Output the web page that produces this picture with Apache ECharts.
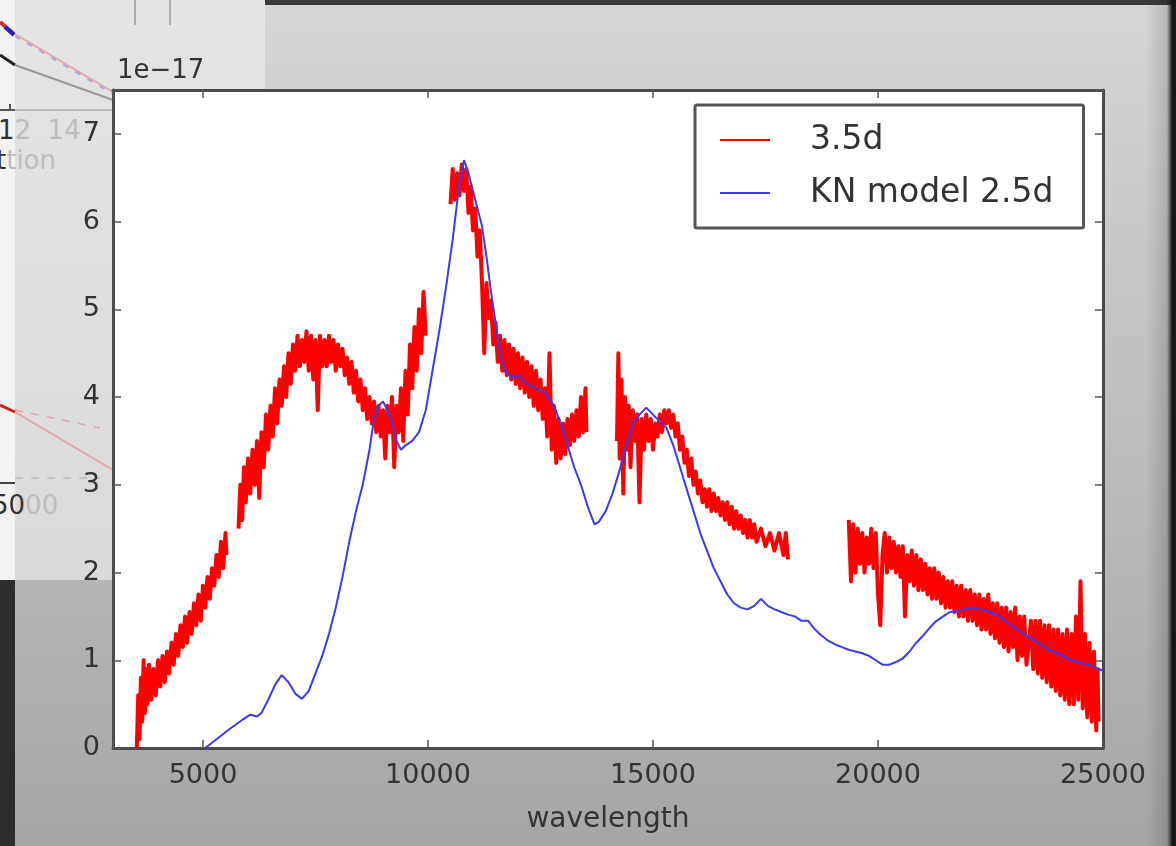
<!DOCTYPE html>
<html>
<head>
<meta charset="utf-8">
<script src="https://cdn.jsdelivr.net/npm/echarts@6/dist/echarts.min.js"></script>
<style>
  html, body { margin: 0; padding: 0; }
  #wrap { position: relative; width: 1176px; height: 846px; overflow: hidden;
    background: linear-gradient(to bottom, #d6d6d6 0%, #c2c2c2 40%, #a6a6a6 100%); font-family: "DejaVu Sans", sans-serif; }
  #rightEdge { position: absolute; right: 0; top: 0; width: 30px; height: 846px;
    background: linear-gradient(to right, rgba(0,0,0,0) 0%, rgba(0,0,0,0.15) 70%, rgba(20,20,20,1) 88%, #1a1a1a 100%); }
  #topStrip { position: absolute; left: 265px; top: 0; width: 911px; height: 5px; background: #3a3a3a; }
  #leftDark { position: absolute; left: 0; top: 580px; width: 15px; height: 266px; background: #2e2e2e; }
  #panel { position: absolute; left: 0; top: 0; width: 265px; height: 580px;
    background: linear-gradient(to bottom, #e4e4e4 0%, #dadada 100%); }
  #panelStrip { position: absolute; left: 0; top: 0; width: 15px; height: 580px; background: #f2f2f2; }
  .frag { position: absolute; font-size: 26px; color: #bdbdbd; white-space: nowrap; }
  .dark { color: #333; }
  #chart { position: absolute; left: 0; top: 0; width: 1176px; height: 846px; }
</style>
</head>
<body>
<div id="wrap">
  <div id="topStrip"></div>
  <div id="rightEdge"></div>
  <div id="leftDark"></div>
  <div id="panel"></div>
  <div id="panelStrip"></div>
  <svg style="position:absolute;left:0;top:0" width="265" height="580">
    <line x1="135" y1="0" x2="135" y2="25" stroke="#999" stroke-width="1.5"/>
    <line x1="170" y1="0" x2="170" y2="25" stroke="#999" stroke-width="1.5"/>
    <line x1="0" y1="110" x2="115" y2="110" stroke="#b0b0b0" stroke-width="1.5"/>
    <line x1="0" y1="110" x2="15" y2="110" stroke="#555" stroke-width="2"/>
    <line x1="10" y1="104" x2="10" y2="110" stroke="#555" stroke-width="2"/>
    <line x1="0" y1="22" x2="14" y2="34" stroke="#c83030" stroke-width="4"/>
    <line x1="5" y1="27" x2="14" y2="35" stroke="#2020c0" stroke-width="4"/>
    <line x1="0" y1="55" x2="15" y2="65" stroke="#222" stroke-width="3"/>
    <line x1="15" y1="34" x2="113" y2="92" stroke="#f0a0a0" stroke-width="1.5"/>
    <line x1="15" y1="36" x2="113" y2="94" stroke="#a8a8e8" stroke-width="2" stroke-dasharray="6,8"/>
    <line x1="15" y1="65" x2="113" y2="100" stroke="#999" stroke-width="2"/>
    <line x1="0" y1="405" x2="15" y2="412" stroke="#d02020" stroke-width="3"/>
    <line x1="15" y1="412" x2="113" y2="470" stroke="#e8a0a0" stroke-width="1.5"/>
    <line x1="15" y1="410" x2="100" y2="428" stroke="#e8a0a0" stroke-width="1.5" stroke-dasharray="8,8"/>
    <line x1="15" y1="478" x2="100" y2="478" stroke="#bbb" stroke-width="1.5" stroke-dasharray="8,8"/>
    <line x1="0" y1="483" x2="15" y2="483" stroke="#444" stroke-width="2"/>
  </svg>
  <div class="frag" style="left:-2px;top:115px;"><span class="dark">1</span>2&nbsp;&nbsp;14</div>
  <div class="frag" style="left:-4px;top:145px;"><span class="dark">t</span>tion</div>
  <div class="frag" style="left:-8px;top:490px;"><span class="dark">50</span>00</div>
  <div id="chart"></div>
</div>
<script>
// ---------- data ----------
var xTicks = [5000, 10000, 15000, 20000, 25000];
var yTicks = [0, 1, 2, 3, 4, 5, 6, 7];

// observed spectrum at 3.5 d (red), split where there are gaps
var red1 = [[3530,0.0],[3560,0.6],[3590,0.1],[3620,0.8],[3650,0.3],[3680,1.0],[3710,0.4],[3740,0.9],[3770,0.5],[3800,0.95],
  [3850,0.55],[3900,0.9],[3950,0.6],[4000,1.0],[4050,0.7],[4100,1.05],[4150,0.75],[4200,1.1],[4250,0.85],[4300,1.2],
  [4350,0.95],[4400,1.3],[4450,1.05],[4500,1.4],[4550,1.15],[4600,1.5],[4650,1.2],[4700,1.55],[4750,1.3],[4800,1.65],
  [4850,1.4],[4900,1.75],[4950,1.45],[5000,1.85],[5050,1.6],[5100,1.95],[5150,1.7],[5200,2.05],[5250,1.85],[5300,2.2],
  [5350,1.95],[5400,2.35],[5450,2.05],[5500,2.45],[5520,2.2]];
var red2 = [[5790,2.5],[5830,3.0],[5870,2.6],[5910,3.2],[5950,2.8],[6000,3.3],[6050,2.9],[6100,3.4],[6150,3.0],[6200,3.5],
  [6250,2.85],[6300,3.6],[6350,3.2],[6400,3.8],[6450,3.4],[6500,3.9],[6550,3.55],[6600,4.1],[6650,3.7],[6700,4.2],
  [6750,3.9],[6800,4.35],[6850,4.0],[6900,4.5],[6950,4.15],[7000,4.6],[7050,4.3],[7100,4.7],[7150,4.35],[7200,4.65],
  [7250,4.4],[7300,4.75],[7350,4.3],[7400,4.7],[7450,4.2],[7500,4.65],[7550,3.85],[7600,4.7],[7650,4.35],[7700,4.65],
  [7750,4.35],[7800,4.7],[7850,4.4],[7900,4.65],[7950,4.3],[8000,4.6],[8050,4.35],[8100,4.55],[8150,4.25],[8200,4.45],
  [8250,4.15],[8300,4.4],[8350,4.05],[8400,4.3],[8450,3.95],[8500,4.2],[8550,3.85],[8600,4.1],[8650,3.75],[8700,4.0],
  [8750,3.7],[8800,3.95],[8850,3.6],[8900,3.9],[8950,3.55],[9000,3.85],[9050,3.3],[9100,3.9],[9150,3.6],[9200,4.0],
  [9250,3.2],[9300,3.9],[9350,3.6],[9400,4.1],[9450,3.5],[9500,4.3],[9550,3.8],[9600,4.6],[9650,4.1],[9700,4.8],
  [9750,4.3],[9800,5.0],[9850,4.5],[9900,5.2],[9950,4.7]];
var red3 = [[10500,6.2],[10550,6.6],[10600,6.25],[10650,6.55],[10700,6.3],[10750,6.65],[10800,6.35],[10850,6.6],[10900,6.1],[10950,6.4],
  [11000,5.9],[11050,6.15],[11100,5.6],[11150,5.9],[11200,5.3],[11250,4.5],[11300,5.3],[11350,4.9],[11400,5.1],[11450,4.6],
  [11500,4.85],[11550,4.4],[11600,4.7],[11650,4.3],[11700,4.65],[11750,4.25],[11800,4.6],[11850,4.2],[11900,4.55],[11950,4.15],
  [12000,4.5],[12050,4.1],[12100,4.45],[12150,4.05],[12200,4.4],[12250,4.0],[12300,4.35],[12350,3.9],[12400,4.3],[12450,3.85],
  [12500,4.2],[12550,3.75],[12600,4.1],[12650,3.55],[12700,4.5],[12750,3.4],[12800,3.9],[12850,3.25],[12900,3.75],[12950,3.3],
  [13000,3.7],[13050,3.35],[13100,3.75],[13150,3.45],[13200,3.8],[13250,3.5],[13300,3.85],[13350,3.55],[13400,4.0],[13450,3.6],
  [13500,4.1],[13520,3.6]];
var red4 = [[14200,3.5],[14230,4.5],[14260,3.3],[14300,4.2],[14340,2.9],[14380,4.0],[14420,3.4],[14460,3.9],[14500,3.2],[14550,3.85],
  [14600,3.5],[14650,3.8],[14700,2.8],[14750,3.75],[14800,3.4],[14850,3.8],[14900,3.5],[14950,3.75],[15000,3.4],[15050,3.7],
  [15100,3.55],[15150,3.8],[15200,3.6],[15250,3.85],[15300,3.7],[15350,3.85],[15400,3.65],[15450,3.8],[15500,3.55],[15550,3.7],
  [15600,3.4],[15650,3.55],[15700,3.25],[15750,3.4],[15800,3.1],[15850,3.3],[15900,3.0],[15950,3.15],[16000,2.9],[16050,3.05],
  [16100,2.8],[16150,2.95],[16200,2.75],[16250,2.95],[16300,2.7],[16350,2.9],[16400,2.7],[16450,2.85],[16500,2.65],[16550,2.8],
  [16600,2.6],[16650,2.8],[16700,2.55],[16750,2.75],[16800,2.5],[16850,2.7],[16900,2.5],[16950,2.65],[17000,2.45],[17050,2.6],
  [17100,2.4],[17150,2.6],[17200,2.4],[17250,2.55],[17300,2.35],[17400,2.5],[17500,2.3],[17600,2.45],[17700,2.25],[17800,2.45],
  [17900,2.2],[17950,2.45],[18000,2.15]];
var red5 = [[19350,2.6],[19400,1.9],[19450,2.55],[19500,2.0],[19550,2.5],[19600,2.1],[19650,2.45],[19700,2.0],[19750,2.4],[19800,2.1],
  [19850,2.5],[19900,2.05],[19950,2.45],[20000,1.75],[20050,1.4],[20100,2.2],[20150,2.45],[20200,2.0],[20250,2.4],[20300,2.05],
  [20350,2.35],[20400,2.0],[20450,2.3],[20500,1.95],[20550,2.3],[20600,1.5],[20650,2.2],[20700,1.9],[20750,2.25],[20800,1.85],
  [20850,2.2],[20900,1.8],[20950,2.15],[21000,1.8],[21050,2.1],[21100,1.75],[21150,2.05],[21200,1.7],[21250,2.05],[21300,1.7],
  [21350,2.0],[21400,1.65],[21450,1.95],[21500,1.6],[21550,1.9],[21600,1.6],[21650,1.9],[21700,1.55],[21750,1.85],[21800,1.5],
  [21850,1.85],[21900,1.5],[21950,1.8],[22000,1.45],[22050,1.8],[22100,1.45],[22150,1.75],[22200,1.4],[22250,1.75],[22300,1.35],
  [22350,1.7],[22400,1.35],[22450,1.75],[22500,1.3],[22550,1.65],[22600,1.25],[22650,1.65],[22700,1.2],[22750,1.6],[22800,1.15],
  [22850,1.6],[22900,1.1],[22950,1.55],[23000,1.15],[23050,1.6],[23100,1.0],[23150,1.5],[23200,1.05],[23250,1.5],[23300,0.95],
  [23400,1.45],[23450,0.9],[23500,1.45],[23550,0.85],[23600,1.45],[23650,0.8],[23700,1.4],[23750,0.75],[23800,1.4],[23850,0.7],
  [23900,1.35],[23950,0.65],[24000,1.35],[24050,0.6],[24100,1.3],[24150,0.55],[24200,1.35],[24250,0.5],[24300,1.3],[24350,0.5],
  [24400,1.5],[24450,0.55],[24500,1.9],[24550,0.45],[24600,1.3],[24650,0.35],[24700,1.2],[24750,0.3],[24800,1.1],[24850,0.2],
  [24880,0.9],[24900,0.3]];

// KN model at 2.5 d (blue)
var model = [[5050,0.0],[5300,0.1],[5600,0.22],[5900,0.33],[6050,0.38],[6200,0.36],[6300,0.4],[6450,0.55],[6600,0.72],[6750,0.83],
  [6900,0.75],[7050,0.62],[7200,0.56],[7350,0.65],[7500,0.85],[7650,1.05],[7800,1.3],[7950,1.6],[8100,1.95],[8250,2.35],
  [8400,2.7],[8550,3.0],[8700,3.4],[8800,3.75],[8900,3.9],[9000,3.95],[9100,3.85],[9200,3.7],[9300,3.5],[9400,3.4],
  [9500,3.45],[9650,3.5],[9800,3.6],[9950,3.85],[10100,4.3],[10250,4.75],[10400,5.25],[10550,5.8],[10700,6.45],[10800,6.7],
  [10900,6.55],[11000,6.35],[11100,6.15],[11200,5.95],[11300,5.6],[11400,5.2],[11500,4.85],[11600,4.5],[11700,4.3],[11800,4.25],
  [11900,4.22],[12000,4.25],[12100,4.2],[12200,4.15],[12400,4.1],[12600,4.05],[12800,3.9],[12950,3.7],[13100,3.45],[13250,3.2],
  [13400,3.0],[13550,2.75],[13700,2.55],[13800,2.58],[13950,2.7],[14100,2.9],[14250,3.15],[14400,3.45],[14550,3.7],[14700,3.8],
  [14850,3.88],[15000,3.8],[15150,3.72],[15300,3.65],[15450,3.45],[15600,3.2],[15750,2.95],[15900,2.7],[16050,2.45],[16200,2.25],
  [16350,2.05],[16500,1.9],[16650,1.75],[16800,1.65],[16950,1.6],[17100,1.58],[17250,1.62],[17400,1.7],[17550,1.62],[17700,1.58],
  [17850,1.55],[18000,1.52],[18150,1.5],[18300,1.45],[18450,1.45],[18600,1.35],[18750,1.28],[18900,1.22],[19050,1.18],[19200,1.15],
  [19350,1.12],[19500,1.1],[19650,1.08],[19800,1.05],[19950,1.0],[20100,0.95],[20250,0.95],[20400,0.98],[20550,1.02],[20700,1.1],
  [20850,1.2],[21000,1.28],[21150,1.37],[21300,1.45],[21450,1.5],[21600,1.55],[21750,1.56],[21900,1.58],[22100,1.6],[22300,1.58],
  [22500,1.55],[22700,1.5],[22900,1.42],[23100,1.35],[23300,1.28],[23500,1.22],[23700,1.15],[23900,1.1],[24100,1.05],[24300,1.0],
  [24500,0.97],[24700,0.95],[24900,0.9],[25000,0.88]];

var redSegments = [red1, red2, red3, red4, red5];

// ---------- chart ----------
var chart = echarts.init(document.getElementById('chart'), null, { renderer: 'canvas' });
var font = '"DejaVu Sans", sans-serif';
var axisLineStyle = { color: '#4a4a4a', width: 3 };

function xLabel(v) { return xTicks.indexOf(v) >= 0 ? String(v) : ''; }
function yLabel(v) { return yTicks.indexOf(v) >= 0 ? String(v) : ''; }

var series = redSegments.map(function (seg) {
  return {
    name: '3.5d', type: 'line', data: seg, showSymbol: false, symbol: 'none',
    lineStyle: { color: '#ff0000', width: 4, join: 'round' }, itemStyle: { color: '#ff0000' },
    animation: false, silent: true, z: 2
  };
});
series.push({
  name: 'KN model 2.5d', type: 'line', data: model, showSymbol: false, symbol: 'none',
  lineStyle: { color: '#3a3af0', width: 2 }, itemStyle: { color: '#3a3af0' },
  animation: false, silent: true, z: 3
});

chart.setOption({
  backgroundColor: 'transparent',
  animation: false,
  grid: { left: 113, right: 73, top: 90, bottom: 98, show: true, backgroundColor: '#ffffff', borderWidth: 0 },
  legend: {
    data: ['3.5d', 'KN model 2.5d'],
    orient: 'vertical', left: 695, top: 105,
    icon: 'path://M0,0L50,0L50,2L0,2Z',
    itemWidth: 50, itemHeight: 2, itemGap: 17,
    padding: [17, 30, 17, 25],
    backgroundColor: '#ffffff', borderColor: '#555555', borderWidth: 3, borderRadius: 2,
    textStyle: { fontFamily: font, fontSize: 33, color: '#333333', lineHeight: 36, padding: [0, 0, 0, 35] }
  },
  xAxis: [{
    type: 'value', min: 3000, max: 25000, splitNumber: 4,
    name: 'wavelength', nameLocation: 'middle', nameGap: 58,
    nameTextStyle: { fontFamily: font, fontSize: 28, color: '#333333' },
    axisLine: { show: true, onZero: false, lineStyle: axisLineStyle },
    axisTick: { show: true, inside: true, length: 8, lineStyle: { color: '#555', width: 1.5 } },
    axisLabel: { formatter: xLabel, fontFamily: font, fontSize: 27, color: '#333333', margin: 14 },
    splitLine: { show: false }
  }, {
    type: 'value', min: 3000, max: 25000, splitNumber: 4, position: 'top',
    axisLine: { show: true, onZero: false, lineStyle: axisLineStyle },
    axisTick: { show: true, inside: true, length: 8, lineStyle: { color: '#555', width: 1.5 } },
    axisLabel: { show: false }, splitLine: { show: false }
  }],
  yAxis: [{
    type: 'value', min: 0, max: 7.5, interval: 1,
    axisLine: { show: true, onZero: false, lineStyle: axisLineStyle },
    axisTick: { show: true, inside: true, length: 8, lineStyle: { color: '#555', width: 1.5 } },
    axisLabel: { formatter: yLabel, fontFamily: font, fontSize: 27, color: '#333333', margin: 13 },
    splitLine: { show: false }
  }, {
    type: 'value', min: 0, max: 7.5, interval: 1, position: 'right',
    axisLine: { show: true, onZero: false, lineStyle: axisLineStyle },
    axisTick: { show: true, inside: true, length: 8, lineStyle: { color: '#555', width: 1.5 } },
    axisLabel: { show: false }, splitLine: { show: false }
  }],
  graphic: [{
    type: 'text', left: 117, top: 58,
    style: { text: '1e\u221217', font: '26px "DejaVu Sans", sans-serif', fill: '#333333' }
  }],
  series: series
});
</script>
</body>
</html>
